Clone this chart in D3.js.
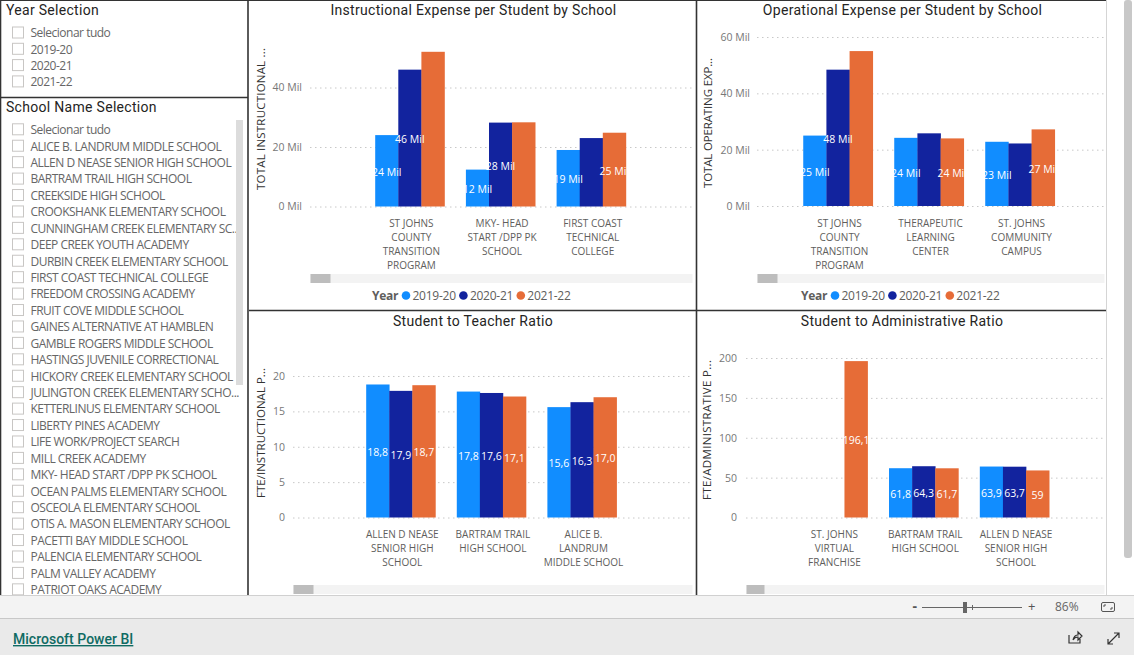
<!DOCTYPE html>
<html><head><meta charset="utf-8">
<script src="https://cdn.jsdelivr.net/npm/d3@7"></script>
<style>
html,body{margin:0;padding:0;background:#fff;overflow:hidden}
svg{display:block}
text{font-family:"Open Sans",sans-serif}
.title{font-family:Roboto,sans-serif;font-size:14px;letter-spacing:.3px;fill:#252423}
.item{font-size:12px;fill:#666;letter-spacing:-.5px}
.tick-y{font-size:10.5px;fill:#777}
.cat{font-size:10px;fill:#605e5c}
.axt{font-size:11.5px;fill:#333}
.dl{font-size:10.5px;fill:#fff}
.lg{font-size:12px;fill:#605e5c;letter-spacing:-.25px}
</style></head><body><svg id="c" width="1134" height="655"></svg>
<script>
const years = ["2019-20","2020-21","2021-22"];
const colors = ["#118DFF","#12239E","#E66C37"];
const yearItems = ["Selecionar tudo","2019-20","2020-21","2021-22"];
const schoolItems = ["Selecionar tudo","ALICE B. LANDRUM MIDDLE SCHOOL","ALLEN D NEASE SENIOR HIGH SCHOOL","BARTRAM TRAIL HIGH SCHOOL","CREEKSIDE HIGH SCHOOL","CROOKSHANK ELEMENTARY SCHOOL","CUNNINGHAM CREEK ELEMENTARY SC...","DEEP CREEK YOUTH ACADEMY","DURBIN CREEK ELEMENTARY SCHOOL","FIRST COAST TECHNICAL COLLEGE","FREEDOM CROSSING ACADEMY","FRUIT COVE MIDDLE SCHOOL","GAINES ALTERNATIVE AT HAMBLEN","GAMBLE ROGERS MIDDLE SCHOOL","HASTINGS JUVENILE CORRECTIONAL","HICKORY CREEK ELEMENTARY SCHOOL","JULINGTON CREEK ELEMENTARY SCHO...","KETTERLINUS ELEMENTARY SCHOOL","LIBERTY PINES ACADEMY","LIFE WORK/PROJECT SEARCH","MILL CREEK ACADEMY","MKY- HEAD START /DPP PK SCHOOL","OCEAN PALMS ELEMENTARY SCHOOL","OSCEOLA ELEMENTARY SCHOOL","OTIS A. MASON ELEMENTARY SCHOOL","PACETTI BAY MIDDLE SCHOOL","PALENCIA ELEMENTARY SCHOOL","PALM VALLEY ACADEMY","PATRIOT OAKS ACADEMY"];

const instrCats = [["ST JOHNS","COUNTY","TRANSITION","PROGRAM"],["MKY- HEAD","START /DPP PK","SCHOOL"],["FIRST COAST","TECHNICAL","COLLEGE"]];
const instrValues = [[24,46,52],[12.4,28.2,28.3],[19,23,24.8]];
const instrLabels = [["24 Mil","46 Mil",null],["12 Mil","28 Mil",null],["19 Mil",null,"25 Mil"]];
const instrTicks = [0,20,40];

const operCats = [["ST JOHNS","COUNTY","TRANSITION","PROGRAM"],["THERAPEUTIC","LEARNING","CENTER"],["ST. JOHNS","COMMUNITY","CAMPUS"]];
const operValues = [[25,48.4,55],[24.2,25.8,24],[22.8,22.2,27.2]];
const operLabels = [["25 Mil","48 Mil",null],["24 Mil",null,"24 Mil"],["23 Mil",null,"27 Mil"]];
const operTicks = [0,20,40,60];

const teachCats = [["ALLEN D NEASE","SENIOR HIGH","SCHOOL"],["BARTRAM TRAIL","HIGH SCHOOL"],["ALICE B.","LANDRUM","MIDDLE SCHOOL"]];
const teachValues = [[18.8,17.9,18.7],[17.8,17.6,17.1],[15.6,16.3,17.0]];
const teachLabels = [["18,8","17,9","18,7"],["17,8","17,6","17,1"],["15,6","16,3","17,0"]];
const teachTicks = [0,5,10,15,20];

const adminCats = [["ST. JOHNS","VIRTUAL","FRANCHISE"],["BARTRAM TRAIL","HIGH SCHOOL"],["ALLEN D NEASE","SENIOR HIGH","SCHOOL"]];
const adminValues = [[null,null,196.1],[61.8,64.3,61.7],[63.9,63.7,59]];
const adminLabels = [[null,null,"196,1"],["61,8","64,3","61,7"],["63,9","63,7","59"]];
const adminTicks = [0,50,100,150,200];

const svg = d3.select("#c");

/* slicers */
function slicer(title, titleY, items, y0, dy){
  svg.append("text").attr("class","title").attr("x",6).attr("y",titleY).text(title);
  const g = svg.append("g").attr("clip-path","url(#slClip)");
  const y = d3.scalePoint().domain(items.map((d,i)=>i)).range([y0, y0+dy*(items.length-1)]);
  items.forEach((t,i)=>{
    g.append("rect").attr("x",12.5).attr("y",y(i)-6).attr("width",11).attr("height",11)
      .attr("fill","#fff").attr("stroke","#c8c6c4");
    g.append("text").attr("class","item").attr("x",30.5).attr("y",y(i)+4.3).text(t);
  });
}
svg.append("defs").append("clipPath").attr("id","slClip").append("rect").attr("x",0).attr("y",0).attr("width",247).attr("height",595);
slicer("Year Selection",15,yearItems,33,16.3);
slicer("School Name Selection",112,schoolItems,129.8,16.43);
svg.append("rect").attr("x",236).attr("y",120).attr("width",7).attr("height",265).attr("fill","#dcdcdc");

/* charts */
function chart(o){
  const g = svg.append("g");
  g.append("text").attr("class","title").attr("x",o.titleX).attr("y",15).attr("text-anchor","middle")
    .attr("transform",`translate(0,${o.top})`).text(o.title);
  const y = d3.scaleLinear().domain(o.yDom).range(o.yRange);
  const yAxis = d3.axisLeft(y).tickValues(o.ticks).tickSize(0).tickPadding(0).tickFormat(o.fmt);
  const ay = g.append("g").attr("transform",`translate(${o.axisX},0)`).call(yAxis);
  ay.select(".domain").remove();
  ay.selectAll("text").attr("class","tick-y");
  const gridG = g.append("g").attr("transform",`translate(${o.gridL},0)`)
    .call(d3.axisLeft(y).tickValues(o.ticks).tickSize(-(o.gridR-o.gridL)).tickFormat(""));
  gridG.select(".domain").remove();
  gridG.selectAll("line").attr("stroke","#c8c8c8").attr("stroke-dasharray","1.5 3.5");
  const x0 = d3.scaleBand().domain(d3.range(o.cats.length)).range([o.barL,o.barL+o.step*3]).paddingInner(.236).paddingOuter(.118);
  const x1 = d3.scaleBand().domain(d3.range(3)).range([0,x0.bandwidth()]);
  const groups = g.selectAll(".grp").data(o.values).join("g").attr("transform",(d,i)=>`translate(${x0(i)},0)`);
  groups.selectAll("rect").data(d=>d.map((v,k)=>({v,k})).filter(e=>e.v!=null)).join("rect")
    .attr("x",e=>x1(e.k)).attr("width",x1.bandwidth()+.3).attr("y",e=>y(e.v)).attr("height",e=>y(0)-y(e.v)).attr("fill",e=>colors[e.k]);
  groups.each(function(d,i){
    const gg=d3.select(this);
    d.forEach((v,k)=>{
      const l=o.labels[i][k]; if(l==null) return;
      gg.append("text").attr("class","dl").attr("text-anchor","middle")
        .attr("x",x1(k)+x1.bandwidth()/2).attr("y",(y(v)+y(0))/2+5).text(l);
    });
  });
  const ax = g.append("g").attr("transform",`translate(0,${y(0)})`)
    .call(d3.axisBottom(x0).tickSize(0).tickFormat(""));
  ax.select(".domain").remove();
  ax.selectAll(".tick").each(function(i){
    const t=d3.select(this).select("text").attr("class","cat").attr("text-anchor","middle").attr("y",0).attr("dy",0);
    o.cats[i].forEach((ln,j)=>t.append("tspan").attr("x",1.5).attr("y",20.5+14*j).text(ln));
  });
  g.append("text").attr("class","axt").attr("transform",`translate(${o.axtX},${o.axtY}) rotate(-90)`)
    .attr("textLength",o.axtLen).attr("lengthAdjust","spacing").text(o.axt);
  g.append("rect").attr("x",o.gridL+.5).attr("y",o.sbY).attr("width",o.gridR-o.gridL).attr("height",9).attr("fill","#f3f3f3");
  g.append("rect").attr("x",o.gridL+.5).attr("y",o.sbY).attr("width",o.thumb).attr("height",9).attr("fill","#bdbdbd");
  if(o.legX!=null){
    const L=g.append("g").attr("transform",`translate(${o.legX},0)`);
    L.append("text").attr("class","lg").style("font-weight",700).attr("x",0).attr("y",300).text("Year");
    years.forEach((yr,k)=>{
      const cx=34+57.4*k;
      L.append("circle").attr("cx",cx).attr("cy",295.5).attr("r",4.3).attr("fill",colors[k]);
      L.append("text").attr("class","lg").attr("x",cx+6.5).attr("y",300).text(yr);
    });
  }
}
const fmtMil = d=>d+" Mil", fmtNum = d=>d;
chart({title:"Instructional Expense per Student by School",titleX:473.5,top:0,yDom:[0,40],yRange:[206.5,87.5],ticks:instrTicks,fmt:fmtMil,axisX:302,gridL:310,gridR:692,barL:364.5,step:90.7,cats:instrCats,values:instrValues,labels:instrLabels,axt:"TOTAL INSTRUCTIONAL ...",axtX:265,axtY:190,axtLen:142,sbY:274,thumb:20,legX:372});
chart({title:"Operational Expense per Student by School",titleX:902.5,top:0,yDom:[0,60],yRange:[206,37],ticks:operTicks,fmt:fmtMil,axisX:750,gridL:757,gridR:1104,barL:792.5,step:91,cats:operCats,values:operValues,labels:operLabels,axt:"TOTAL OPERATING EXP...",axtX:712,axtY:188,axtLen:130,sbY:274,thumb:20,legX:801});
chart({title:"Student to Teacher Ratio",titleX:473,top:311,yDom:[0,20],yRange:[517.5,376],ticks:teachTicks,fmt:fmtNum,axisX:285,gridL:293,gridR:692,barL:355.5,step:90.6,cats:teachCats,values:teachValues,labels:teachLabels,axt:"FTE/INSTRUCTIONAL P...",axtX:265,axtY:498,axtLen:130,sbY:585,thumb:20});
chart({title:"Student to Administrative Ratio",titleX:902,top:311,yDom:[0,200],yRange:[517.5,358],ticks:adminTicks,fmt:fmtNum,axisX:737,gridL:746,gridR:1104,barL:787.5,step:90.8,cats:adminCats,values:adminValues,labels:adminLabels,axt:"FTE/ADMINISTRATIVE P...",axtX:711,axtY:500,axtLen:140,sbY:585,thumb:18});

/* frames */
const frame="#333";
[[0,0,1134-27,0],[0,97.5,248,97.5],[249,310.5,1106,310.5]].forEach(s=>svg.append("line").attr("x1",s[0]).attr("y1",s[1]).attr("x2",s[2]).attr("y2",s[3]).attr("stroke",frame).attr("stroke-width",s[1]==0?2:1.6));
[[0.5,0,595],[248,0,595],[696.5,0,595]].forEach(s=>svg.append("line").attr("x1",s[0]).attr("y1",s[1]).attr("x2",s[0]).attr("y2",s[2]).attr("stroke",frame).attr("stroke-width",1.6));
svg.append("line").attr("x1",1106.5).attr("x2",1106.5).attr("y1",0).attr("y2",595).attr("stroke","#d5d5d5");
svg.append("rect").attr("x",1124).attr("y",0).attr("width",8).attr("height",558).attr("rx",3).attr("fill","#c8c8c8");

/* footer */
svg.append("rect").attr("x",0).attr("y",595).attr("width",1134).attr("height",23).attr("fill","#f3f3f3");
svg.append("rect").attr("x",0).attr("y",618).attr("width",1134).attr("height",37).attr("fill","#eaeaea");
svg.append("line").attr("x1",0).attr("x2",1134).attr("y1",595.5).attr("y2",595.5).attr("stroke","#d0d0d0");
svg.append("line").attr("x1",0).attr("x2",1134).attr("y1",618.5).attr("y2",618.5).attr("stroke","#c8c8c8");
svg.append("text").attr("x",13).attr("y",644).attr("font-size",14).style("font-family","Roboto").style("font-weight",500).style("letter-spacing",".02px").attr("fill","#0f6b63").attr("text-decoration","underline").text("Microsoft Power BI");
svg.append("text").attr("x",912.5).attr("y",611).attr("font-size",14).style("font-weight",700).attr("fill","#555").text("-");
svg.append("line").attr("x1",922).attr("x2",1022).attr("y1",607.5).attr("y2",607.5).attr("stroke","#666");
svg.append("rect").attr("x",963).attr("y",602).attr("width",4).attr("height",11).attr("fill","#666");
svg.append("line").attr("x1",972.5).attr("x2",972.5).attr("y1",605).attr("y2",610).attr("stroke","#666");
svg.append("text").attr("x",1028).attr("y",611).attr("font-size",13).attr("fill","#555").text("+");
svg.append("text").attr("x",1055).attr("y",611).attr("font-size",12).attr("fill","#666").text("86%");
svg.append("rect").attr("x",1101.5).attr("y",602.5).attr("width",13).attr("height",9).attr("rx",1.5).attr("fill","none").attr("stroke","#555");
svg.append("path").attr("d","M1104 607V605H1106M1112 607V609H1110").attr("fill","none").attr("stroke","#555");
svg.append("path").attr("d","M1069 635V643H1080V639M1073 640C1074 636 1076 635 1078 635V632L1082 636L1078 640V637C1076 637 1074 638 1073 640Z").attr("fill","none").attr("stroke","#333").attr("stroke-width",1.2);
svg.append("path").attr("d","M1108 644L1119 633M1114 633H1119V638M1108 639V644H1113").attr("fill","none").attr("stroke","#333").attr("stroke-width",1.2);
</script></body></html>
